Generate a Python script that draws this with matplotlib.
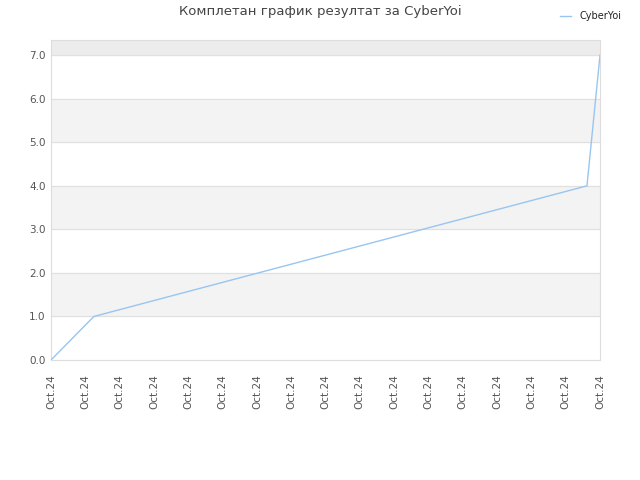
import matplotlib
matplotlib.use("Agg")
import matplotlib.pyplot as plt

# data
player = "CyberYoi"
x_pos = [0, 1.25, 15.62, 16]
scores = [0, 1, 4, 7]
tick_labels = ["Oct.24"] * 17
y_ticks = [0, 1, 2, 3, 4, 5, 6, 7]

fig = plt.figure(figsize=(6.4, 4.8), dpi=100)
ax = fig.add_axes([0.0797, 0.25, 0.8578, 0.6667])

ymax = 7.35
# alternating bands
for lo in range(0, 7):
    if lo % 2 == 1:
        ax.axhspan(lo, lo + 1, color="#f3f3f3", zorder=0)
ax.axhspan(7, ymax, color="#ececec", zorder=0)
for y in y_ticks:
    ax.axhline(y, color="#e0e0e0", lw=0.8, zorder=1)

ax.plot(x_pos, scores, color="#99c5f0", lw=1.0, label=player, zorder=3)

ax.set_xlim(0, 16)
ax.set_ylim(0, ymax)
ax.set_xticks(range(17))
ax.set_xticklabels(tick_labels, rotation=90)
ax.set_yticks(y_ticks)
ax.set_yticklabels([f"{v:.1f}" for v in y_ticks])
ax.tick_params(length=0, labelsize=7.5, labelcolor="#555555", pad=4)
ax.tick_params(axis="x", pad=10)
for s in ax.spines.values():
    s.set_color("#dddddd")

fig.suptitle("Комплетан график резултат за CyberYoi", fontsize=9.5, color="#444444", y=0.99)
fig.legend(loc="upper right", bbox_to_anchor=(0.984, 0.995), frameon=False,
           fontsize=7, handlelength=1.2, labelcolor="#222222")

fig.savefig("out.png")
